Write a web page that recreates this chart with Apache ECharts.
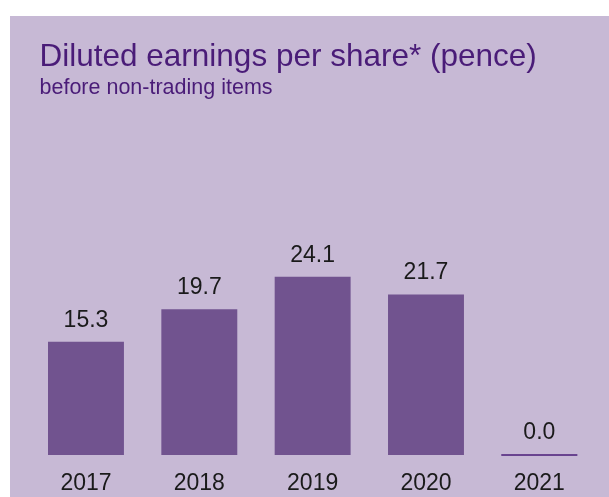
<!DOCTYPE html>
<html><head><meta charset="utf-8">
<script src="https://cdn.jsdelivr.net/npm/echarts@6/dist/echarts.min.js"></script>
<style>
html,body{margin:0;padding:0;background:#fff;}
#wrap{position:relative;width:609px;height:497px;background:#fff;}
#bg{position:absolute;left:10px;top:16px;width:599px;height:481px;background:#c7b9d5;}
#chart{position:absolute;left:0;top:0;width:609px;height:497px;}
</style></head>
<body>
<div id="wrap"><div id="bg"></div><div id="chart"></div></div>
<script>
const categories = ['2017', '2018', '2019', '2020', '2021'];
const epsValues = [15.3, 19.7, 24.1, 21.7, 0.0];
const titleText = 'Diluted earnings per share* (pence)';
const subtitleText = 'before non-trading items';

const barColor = '#71538f';
const textColor = '#1a1a1a';
const titleColor = '#4a1c78';
const font = '"Liberation Sans", Arial, Helvetica, sans-serif';

const chart = echarts.init(document.getElementById('chart'), null, {renderer: 'canvas'});
chart.setOption({
  backgroundColor: 'transparent',
  animation: false,
  title: {
    text: titleText,
    subtext: subtitleText,
    left: 39.5,
    top: 41,
    padding: 0,
    itemGap: 4,
    textStyle: {fontFamily: font, fontSize: 31.5, fontWeight: 'normal', color: titleColor},
    subtextStyle: {fontFamily: font, fontSize: 21.5, color: titleColor}
  },
  grid: {left: 29.3, right: 13, top: 233, bottom: 42, containLabel: false},
  xAxis: {
    type: 'category',
    data: categories,
    axisLine: {show: false},
    axisTick: {show: false},
    axisLabel: {fontFamily: font, fontSize: 23, color: textColor, margin: 17}
  },
  yAxis: {
    type: 'value', min: 0, max: 30,
    show: false,
    splitLine: {show: false}
  },
  series: [{
    type: 'bar',
    barCategoryGap: '33%',
    data: epsValues.map(v => v === 0 ? {value: v, itemStyle: {borderColor: '#4a1c78', borderWidth: 1}} : v),
    itemStyle: {color: barColor},
    label: {
      show: true, position: 'top', distance: 10,
      fontFamily: font, fontSize: 23, color: textColor,
      formatter: p => Number(p.value).toFixed(1)
    }
  }]
});
</script>
</body></html>
